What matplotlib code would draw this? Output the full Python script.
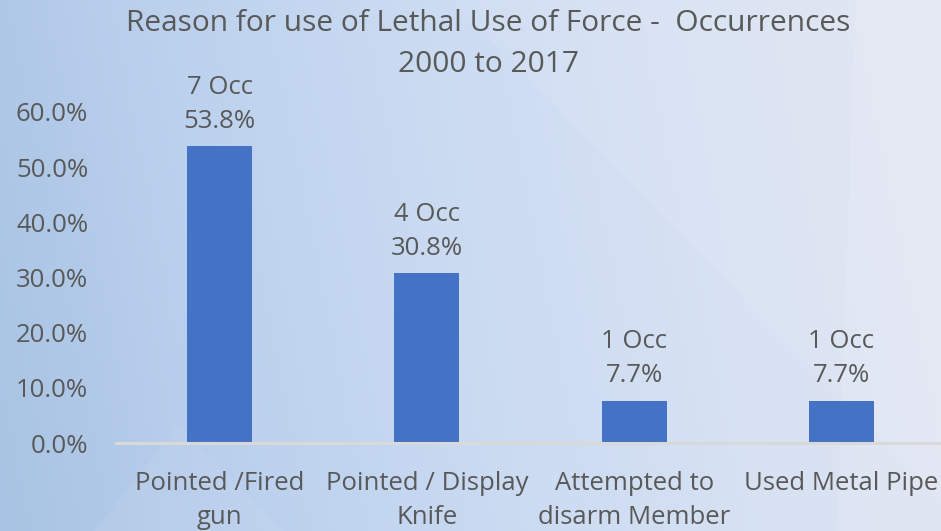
import numpy as np
import matplotlib as mpl
mpl.use("Agg")
import matplotlib.pyplot as plt
from matplotlib.colors import LinearSegmentedColormap
from matplotlib.patches import Polygon

categories = ["Pointed /Fired\ngun", "Pointed / Display\nKnife",
              "Attempted to\ndisarm Member", "Used Metal Pipe"]
occurrences = [7, 4, 1, 1]
percents = [53.8, 30.8, 7.7, 7.7]
yticks = [0, 10, 20, 30, 40, 50, 60]

font = ["Open Sans", "DejaVu Sans"]
grey = "#595959"

fig = plt.figure(figsize=(9.41, 5.31), dpi=100)

# backdrop: soft blue gradient with a few lighter facets
bg = fig.add_axes([0, 0, 1, 1], zorder=0)
cmap = LinearSegmentedColormap.from_list(
    "bgc", ["#a8c3e3", "#bcd1ee", "#cbdbf2", "#d8e2f3", "#e1e5f1"])
xx, yy = np.meshgrid(np.linspace(0, 1, 300), np.linspace(0, 1, 200))
grad = np.clip(0.9 * xx + 0.1 * yy, 0, 1)
bg.imshow(grad, cmap=cmap, extent=[0, 1, 0, 1], aspect="auto",
          origin="lower")
bg.add_patch(Polygon([[0.48, 1], [1, 1], [1, 0.06]], closed=True,
                     facecolor="white", alpha=0.08, lw=0))
bg.add_patch(Polygon([[0.91, 1], [1, 1], [1, 0], [0.89, 0]], closed=True,
                     facecolor="white", alpha=0.1, lw=0))
bg.add_patch(Polygon([[0.1, 0], [0.3, 0], [0.19, 0.2]], closed=True,
                     facecolor="white", alpha=0.06, lw=0))
bg.set_xlim(0, 1)
bg.set_ylim(0, 1)
bg.axis("off")

ax = fig.add_axes([0.1233, 0.1657, 0.881, 0.6234], zorder=1)
ax.patch.set_alpha(0)
x = np.arange(len(categories))
bars = ax.bar(x, percents, width=0.314, color="#4472c4", zorder=2)
labels = ["{} Occ\n{:.1f}%".format(n, p) for n, p in zip(occurrences, percents)]
ax.bar_label(bars, labels=labels, padding=9, color=grey, fontsize=18.5,
             family=font, linespacing=1.45)

ax.set_xlim(-0.5, 3.5)
ax.set_ylim(0, 60)
ax.set_yticks(yticks)
ax.set_yticklabels(["{:.1f}%".format(v) for v in yticks])
ax.set_xticks(x)
ax.set_xticklabels(categories, linespacing=1.5)
for lab in ax.get_xticklabels() + ax.get_yticklabels():
    lab.set_family(font)
    lab.set_fontsize(18.5)
    lab.set_color(grey)
ax.tick_params(axis="both", length=0)
ax.tick_params(axis="x", pad=20)
ax.tick_params(axis="y", pad=20)
for s in ["top", "right", "left"]:
    ax.spines[s].set_visible(False)
ax.spines["bottom"].set_color("#d9d9d9")
ax.spines["bottom"].set_linewidth(2.2)

fig.text(0.519, 0.917, "Reason for use of Lethal Use of Force -  Occurrences\n2000 to 2017",
         ha="center", va="center", fontsize=21.5, color=grey, family=font,
         linespacing=1.55)

fig.savefig("out.png", dpi=100)
